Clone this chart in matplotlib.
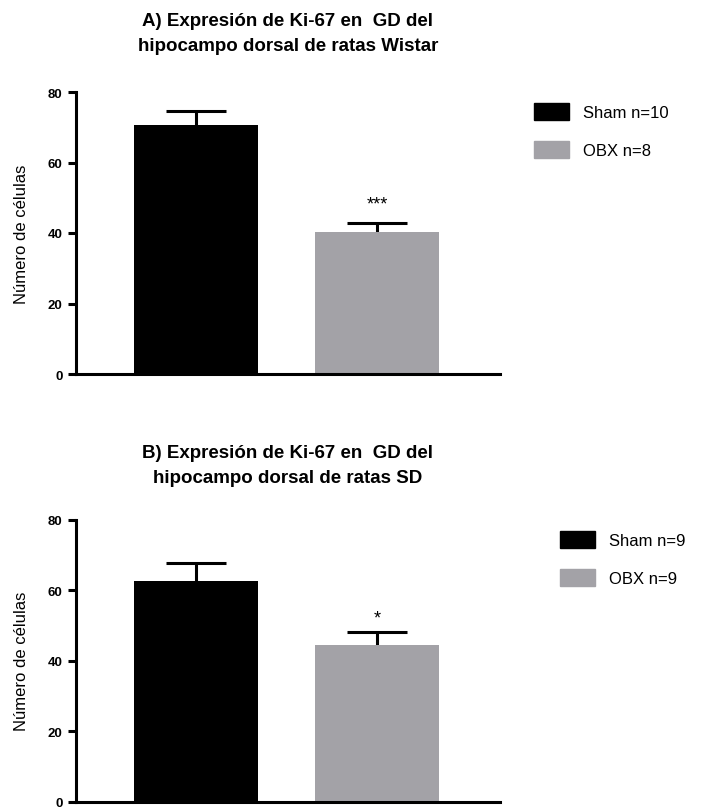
import matplotlib
matplotlib.use('Agg')
import matplotlib.pyplot as plt
from matplotlib.patches import Patch

plt.rcParams['font.family'] = ['Liberation Sans', 'DejaVu Sans']

groups = ['Sham', 'OBX']
bar_colors = ['#000000', '#a3a2a7']

titles = ['A) Expresión de Ki-67 en  GD del\nhipocampo dorsal de ratas Wistar',
          'B) Expresión de Ki-67 en  GD del\nhipocampo dorsal de ratas SD']
means_a = [70.7, 40.2]
sem_a = [4.0, 2.6]
n_a = [10, 8]
stars_a = '***'

means_b = [62.7, 44.5]
sem_b = [4.9, 3.7]
n_b = [9, 9]
stars_b = '*'

yticks = [0, 20, 40, 60, 80]
ylabel = 'Número de células'

W, H = 712, 812
fig = plt.figure(figsize=(W / 100, H / 100), dpi=100)


def panel(top_px, means, sems, ns, stars, star_off, title, title_px, leg_px):
    left, right, bottom = 76, 500, top_px + 282
    ax = fig.add_axes([left / W, 1 - bottom / H, (right - left) / W, 282 / H])
    x = [0, 1]
    ax.bar(x, means, width=0.685, color=bar_colors, zorder=2)
    eb = ax.errorbar(x, means, yerr=[[0, 0], sems], fmt='none', ecolor='black',
                     elinewidth=2.2, capsize=21.6, capthick=2.2, zorder=1)
    # only keep the upper caps
    for cap in eb[1]:
        if list(cap.get_ydata()) == list(means):
            cap.set_visible(False)
    ax.annotate(stars, (1, means[1] + sems[1]), xytext=(0, star_off),
                textcoords='offset points', ha='center', va='bottom', fontsize=13)
    ax.set_xlim(-0.663, 1.68)
    ax.set_ylim(0, 80)
    ax.set_yticks(yticks)
    ax.set_yticklabels([str(t) for t in yticks], fontweight='bold', fontsize=9.5)
    ax.set_xticks([])
    for s in ['top', 'right']:
        ax.spines[s].set_visible(False)
    for s in ['left', 'bottom']:
        ax.spines[s].set_linewidth(2.2)
    ax.tick_params(axis='y', length=5.8, width=2.2, pad=4)
    ax.set_ylabel(ylabel, fontsize=12, labelpad=13)

    handles = [Patch(color=c) for c in bar_colors]
    labels = [f'{g} n={n}' for g, n in zip(groups, ns)]
    fig.legend(handles, labels, loc='upper left',
               bbox_to_anchor=(leg_px[0] / W, 1 - leg_px[1] / H),
               frameon=False, fontsize=12, handlelength=2.1, handleheight=1.2,
               handletextpad=0.85, labelspacing=1.27, borderpad=0, borderaxespad=0)

    fig.text(288 / W, 1 - title_px / H, title, ha='center', va='top',
             fontsize=13.5, fontweight='bold', linespacing=1.55)
    return ax


panel(93, means_a, sem_a, n_a, stars_a, 8, titles[0], 13.5, (534, 104))
panel(520.7, means_b, sem_b, n_b, stars_b, 4, titles[1], 445.5, (560, 532))

fig.savefig('out.png', dpi=100)
